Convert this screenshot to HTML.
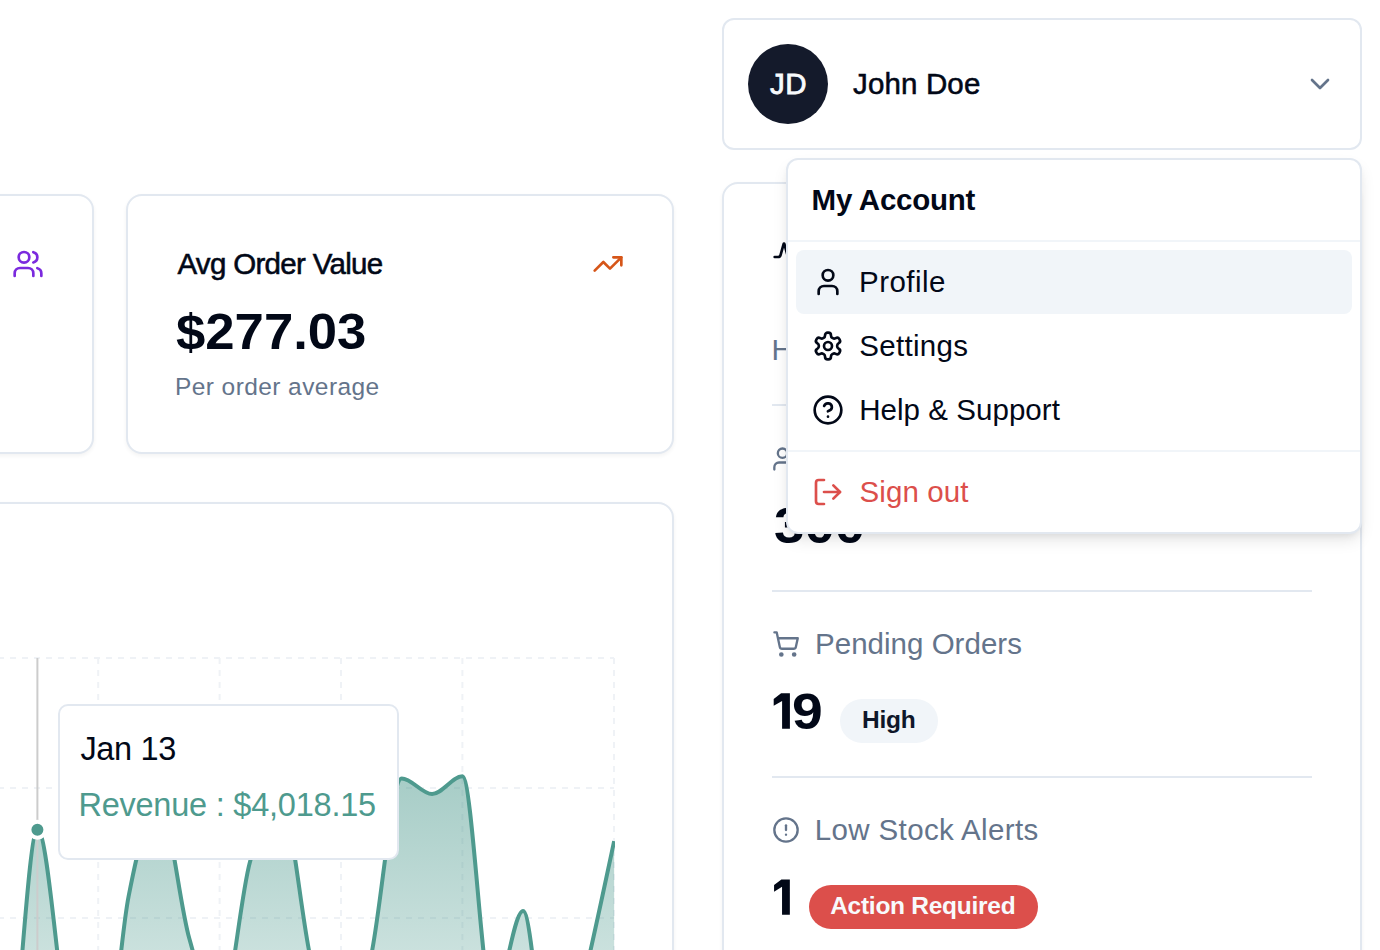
<!DOCTYPE html>
<html><head><meta charset="utf-8">
<style>
*{box-sizing:border-box;margin:0;padding:0}
html,body{width:1380px;height:950px;overflow:hidden;background:#fff}
body{position:relative;font-family:"Liberation Sans",sans-serif;color:#020817}
.abs{position:absolute}
.card{position:absolute;border:2px solid #e2e8f0;border-radius:16px;background:#fff;box-shadow:0 2px 4px rgba(0,0,0,0.05)}
.t{position:absolute;white-space:nowrap;line-height:1}
svg{display:block}
</style></head><body>
<div class="card" style="left:-500px;top:194px;width:594px;height:260px"></div>
<svg class="abs" style="left:11.7px;top:248px" width="32" height="32" viewBox="0 0 24 24" fill="none" stroke="#7b2ade" stroke-width="2" stroke-linecap="round" stroke-linejoin="round"><path d="M16 21v-2a4 4 0 0 0-4-4H6a4 4 0 0 0-4 4v2"/><circle cx="9" cy="7" r="4"/><path d="M22 21v-2a4 4 0 0 0-3-3.87"/><path d="M16 3.13a4 4 0 0 1 0 7.75"/></svg>

<div class="card" style="left:126px;top:194px;width:548px;height:260px"></div>
<div class="t" style="left:177.40px;top:249.03px;font-size:29.5px;font-weight:400;color:#020817;letter-spacing:-0.686px;-webkit-text-stroke:0.55px #020817;">Avg Order Value</div>
<svg class="abs" style="left:592px;top:248px" width="32" height="32" viewBox="0 0 24 24" fill="none" stroke="#d65619" stroke-width="2" stroke-linecap="round" stroke-linejoin="round"><polyline points="22 7 13.5 15.5 8.5 10.5 2 17"/><polyline points="16 7 22 7 22 13"/></svg>
<div class="t" style="left:176.00px;top:306.68px;font-size:50px;font-weight:700;color:#020817;letter-spacing:0.000px;transform:scaleX(1.0534);transform-origin:0 0;">$277.03</div>
<div class="t" style="left:175.00px;top:374.96px;font-size:24.5px;font-weight:400;color:#64748b;letter-spacing:0.419px;">Per order average</div>

<div class="card" style="left:-500px;top:502px;width:1174px;height:600px"></div>
<svg class="abs" style="left:0;top:0" width="680" height="950">
 <defs>
  <linearGradient id="fr" x1="0" y1="658" x2="0" y2="1178" gradientUnits="userSpaceOnUse">
   <stop offset="0" stop-color="#4e9a8e" stop-opacity="0.636"/>
   <stop offset="1" stop-color="#4e9a8e" stop-opacity="0.038"/>
  </linearGradient>
  <clipPath id="cp"><rect x="-100" y="600" width="715" height="600"/></clipPath>
 </defs>
 <g stroke="#eff2f6" stroke-width="2" stroke-dasharray="6 6" fill="none">
  <line x1="-98" y1="658" x2="614" y2="658"/>
  <line x1="-98" y1="788" x2="614" y2="788"/>
  <line x1="-98" y1="918" x2="614" y2="918"/>
  <line x1="98.2" y1="658" x2="98.2" y2="1178"/>
  <line x1="219.6" y1="658" x2="219.6" y2="1178"/>
  <line x1="341" y1="658" x2="341" y2="1178"/>
  <line x1="462.4" y1="658" x2="462.4" y2="1178"/>
  <line x1="614" y1="658" x2="614" y2="1178"/>
 </g>
 <g clip-path="url(#cp)">
 <path d="M-53.55,950.00C-43.43,964.65,-33.32,979.30,-23.20,1000.00C-13.08,1020.70,-2.97,1074.19,7.15,1074.19C17.27,1074.19,27.38,829.60,37.50,829.60C47.62,829.60,57.73,980.66,67.85,1027.86C77.97,1075.06,88.08,1112.79,98.20,1112.79C108.32,1112.79,118.43,948.30,128.55,896.57C138.67,844.83,148.78,802.40,158.90,802.40C169.02,802.40,179.13,902.51,189.25,938.28C199.37,974.05,209.48,1017.00,219.60,1017.00C229.72,1017.00,239.83,898.43,249.95,861.95C260.07,825.48,270.18,798.15,280.30,798.15C290.42,798.15,300.53,912.95,310.65,958.79C320.77,1004.63,330.88,1073.19,341.00,1073.19C351.12,1073.19,361.23,1003.76,371.35,954.64C381.47,905.52,391.58,778.49,401.70,778.49C411.82,778.49,421.93,794.05,432.05,794.05C442.17,794.05,452.28,776.29,462.40,776.29C472.52,776.29,482.63,1002.27,492.75,1002.27C502.87,1002.27,512.98,911.11,523.10,911.11C533.22,911.11,543.33,1103.55,553.45,1103.55C563.57,1103.55,573.68,1023.81,583.80,980.07C593.92,936.32,604.03,888.69,614.15,841.07L614.15,1178L-53.55,1178Z" fill="url(#fr)" stroke="none"/>
 <path d="M-53.55,950.00C-43.43,964.65,-33.32,979.30,-23.20,1000.00C-13.08,1020.70,-2.97,1074.19,7.15,1074.19C17.27,1074.19,27.38,829.60,37.50,829.60C47.62,829.60,57.73,980.66,67.85,1027.86C77.97,1075.06,88.08,1112.79,98.20,1112.79C108.32,1112.79,118.43,948.30,128.55,896.57C138.67,844.83,148.78,802.40,158.90,802.40C169.02,802.40,179.13,902.51,189.25,938.28C199.37,974.05,209.48,1017.00,219.60,1017.00C229.72,1017.00,239.83,898.43,249.95,861.95C260.07,825.48,270.18,798.15,280.30,798.15C290.42,798.15,300.53,912.95,310.65,958.79C320.77,1004.63,330.88,1073.19,341.00,1073.19C351.12,1073.19,361.23,1003.76,371.35,954.64C381.47,905.52,391.58,778.49,401.70,778.49C411.82,778.49,421.93,794.05,432.05,794.05C442.17,794.05,452.28,776.29,462.40,776.29C472.52,776.29,482.63,1002.27,492.75,1002.27C502.87,1002.27,512.98,911.11,523.10,911.11C533.22,911.11,543.33,1103.55,553.45,1103.55C563.57,1103.55,573.68,1023.81,583.80,980.07C593.92,936.32,604.03,888.69,614.15,841.07" fill="none" stroke="#4e9a8e" stroke-width="4"/>
 </g>
 <line x1="37.4" y1="658" x2="37.4" y2="1178" stroke="#cccccc" stroke-width="2"/>
 <circle cx="37.4" cy="829.7" r="8" fill="#4e9a8e" stroke="#fff" stroke-width="4"/>
</svg>
<div class="abs" style="left:58px;top:704px;width:341px;height:156px;border:2px solid #e2e8f0;border-radius:10px;background:#fff"></div>
<div class="t" style="left:80.40px;top:733.19px;font-size:32.5px;font-weight:400;color:#020817;letter-spacing:-0.340px;">Jan 13</div>
<div class="t" style="left:78.40px;top:788.79px;font-size:32.5px;font-weight:400;color:#4e9a8e;letter-spacing:-0.222px;">Revenue : $4,018.15</div>

<div class="card" style="left:722px;top:182px;width:640px;height:900px"></div>
<svg class="abs" style="left:772px;top:240.5px" width="32" height="32" viewBox="0 0 24 24" fill="none" stroke="#020817" stroke-width="2" stroke-linecap="round" stroke-linejoin="round"><path d="M22 12h-2.48a2 2 0 0 0-1.93 1.46l-2.35 8.36a.25.25 0 0 1-.48 0L9.24 2.18a.25.25 0 0 0-.48 0l-2.35 8.36A2 2 0 0 1 4.49 12H2"/></svg>
<div class="t" style="left:816px;top:236px;font-size:40px;font-weight:700">Quick Stats</div>
<div class="t" style="left:771.40px;top:334.83px;font-size:29.5px;font-weight:400;color:#64748b;letter-spacing:0.000px;">Here is your overview</div>
<div class="abs" style="left:772px;top:404px;width:540px;height:2px;background:#e2e8f0"></div>
<svg class="abs" style="left:772px;top:444.5px" width="28" height="28" viewBox="0 0 24 24" fill="none" stroke="#64748b" stroke-width="2" stroke-linecap="round" stroke-linejoin="round"><path d="M16 21v-2a4 4 0 0 0-4-4H6a4 4 0 0 0-4 4v2"/><circle cx="9" cy="7" r="4"/><path d="M22 21v-2a4 4 0 0 0-3-3.87"/><path d="M16 3.13a4 4 0 0 1 0 7.75"/></svg>
<div class="t" style="left:816.00px;top:442.53px;font-size:29.5px;font-weight:400;color:#64748b;letter-spacing:0.000px;">Total Customers</div>
<div class="t" style="left:773.60px;top:500.68px;font-size:50px;font-weight:700;color:#020817;letter-spacing:0.000px;transform:scaleX(1.0938);transform-origin:0 0;">300</div>
<div class="abs" style="left:772px;top:590px;width:540px;height:2px;background:#e2e8f0"></div>
<svg class="abs" style="left:772px;top:630px" width="28" height="28" viewBox="0 0 24 24" fill="none" stroke="#64748b" stroke-width="2" stroke-linecap="round" stroke-linejoin="round"><circle cx="8" cy="21" r="1"/><circle cx="19" cy="21" r="1"/><path d="M2.05 2.05h2l2.66 12.42a2 2 0 0 0 2 1.58h9.78a2 2 0 0 0 1.95-1.57l1.65-7.43H5.12"/></svg>
<div class="t" style="left:815.00px;top:628.93px;font-size:29.5px;font-weight:400;color:#64748b;letter-spacing:0.023px;">Pending Orders</div>
<svg class="abs" style="left:0;top:0" width="1380" height="950"><polygon fill="#020817" points="781.1,693.2 789.9,693.2 789.9,728.8 782.1,728.8 782.1,700.9 773.7,705.8 773.7,699"/><polygon fill="#020817" points="781.4,879.6 789.84,879.6 789.84,914.7 782.05,914.7 782.05,886.66 774.07,891.7 774.07,884.9"/></svg>
<div class="t" style="left:792.40px;top:686.67px;font-size:50px;font-weight:700;color:#020817;letter-spacing:0.000px;transform:scaleX(1.1051);transform-origin:0 0;">9</div>
<div class="abs" style="left:840px;top:699px;width:98px;height:44px;border-radius:22px;background:#f1f5f9"></div>
<div class="t" style="left:862.00px;top:708.26px;font-size:24.5px;font-weight:700;color:#0f172a;letter-spacing:-0.267px;">High</div>
<div class="abs" style="left:772px;top:776px;width:540px;height:2px;background:#e2e8f0"></div>
<svg class="abs" style="left:772px;top:816px" width="28" height="28" viewBox="0 0 24 24" fill="none" stroke="#64748b" stroke-width="2" stroke-linecap="round" stroke-linejoin="round"><circle cx="12" cy="12" r="10"/><line x1="12" x2="12" y1="8" y2="12"/><line x1="12" x2="12.01" y1="16" y2="16"/></svg>
<div class="t" style="left:814.80px;top:815.03px;font-size:29.5px;font-weight:400;color:#64748b;letter-spacing:0.360px;">Low Stock Alerts</div>
<div class="abs" style="left:809px;top:885px;width:229px;height:44px;border-radius:22px;background:#dc4f4b"></div>
<div class="t" style="left:830.20px;top:894.26px;font-size:24.5px;font-weight:700;color:#f8fafc;letter-spacing:-0.271px;">Action Required</div>

<div class="card" style="left:722px;top:18px;width:640px;height:132px;border-radius:12px;box-shadow:none"></div>
<div class="abs" style="left:748px;top:44px;width:80px;height:80px;border-radius:50%;background:#141a2b"></div>
<div class="t" style="left:770.00px;top:69.03px;font-size:29.5px;font-weight:400;color:#f8fafc;letter-spacing:0.500px;-webkit-text-stroke:0.8px #f8fafc;">JD</div>
<div class="t" style="left:853.00px;top:69.03px;font-size:29.5px;font-weight:400;color:#020817;letter-spacing:0.143px;-webkit-text-stroke:0.55px #020817;">John Doe</div>
<svg class="abs" style="left:1304px;top:68px" width="32" height="32" viewBox="0 0 24 24" fill="none" stroke="#64748b" stroke-width="2" stroke-linecap="round" stroke-linejoin="round"><path d="m6 9 6 6 6-6"/></svg>

<div class="abs" style="left:786px;top:158px;width:576px;height:376px;border:2px solid #e2e8f0;border-radius:12px;background:#fff;box-shadow:0 8px 16px -2px rgba(0,0,0,0.1),0 4px 8px -4px rgba(0,0,0,0.1)"></div>
<div class="t" style="left:811.60px;top:185.28px;font-size:29.5px;font-weight:700;color:#020817;letter-spacing:-0.267px;">My Account</div>
<div class="abs" style="left:788px;top:240px;width:572px;height:2px;background:#f1f5f9"></div>
<div class="abs" style="left:796px;top:250px;width:556px;height:64px;border-radius:8px;background:#f1f5f9"></div>
<svg class="abs" style="left:812px;top:266px" width="32" height="32" viewBox="0 0 24 24" fill="none" stroke="#020817" stroke-width="2" stroke-linecap="round" stroke-linejoin="round"><path d="M19 21v-2a4 4 0 0 0-4-4H9a4 4 0 0 0-4 4v2"/><circle cx="12" cy="7" r="4"/></svg>
<div class="t" style="left:859.00px;top:266.83px;font-size:29.5px;font-weight:400;color:#020817;letter-spacing:0.467px;">Profile</div>
<svg class="abs" style="left:812px;top:330px" width="32" height="32" viewBox="0 0 24 24" fill="none" stroke="#020817" stroke-width="2" stroke-linecap="round" stroke-linejoin="round"><path d="M12.22 2h-.44a2 2 0 0 0-2 2v.18a2 2 0 0 1-1 1.73l-.43.25a2 2 0 0 1-2 0l-.15-.08a2 2 0 0 0-2.73.73l-.22.38a2 2 0 0 0 .73 2.73l.15.1a2 2 0 0 1 1 1.72v.51a2 2 0 0 1-1 1.74l-.15.09a2 2 0 0 0-.73 2.73l.22.38a2 2 0 0 0 2.730.73l.15-.08a2 2 0 0 1 2 0l.43.25a2 2 0 0 1 1 1.73V20a2 2 0 0 0 2 2h.44a2 2 0 0 0 2-2v-.18a2 2 0 0 1 1-1.73l.43-.25a2 2 0 0 1 2 0l.15.08a2 2 0 0 0 2.73-.73l.22-.39a2 2 0 0 0-.73-2.73l-.15-.08a2 2 0 0 1-1-1.74v-.5a2 2 0 0 1 1-1.74l.15-.09a2 2 0 0 0 .73-2.73l-.22-.38a2 2 0 0 0-2.73-.73l-.15.08a2 2 0 0 1-2 0l-.43-.25a2 2 0 0 1-1-1.73V4a2 2 0 0 0-2-2z"/><circle cx="12" cy="12" r="3"/></svg>
<div class="t" style="left:859.20px;top:331.13px;font-size:29.5px;font-weight:400;color:#020817;letter-spacing:0.329px;">Settings</div>
<svg class="abs" style="left:812px;top:394px" width="32" height="32" viewBox="0 0 24 24" fill="none" stroke="#020817" stroke-width="2" stroke-linecap="round" stroke-linejoin="round"><circle cx="12" cy="12" r="10"/><path d="M9.09 9a3 3 0 0 1 5.83 1c0 2-3 3-3 3"/><path d="M12 17h.01"/></svg>
<div class="t" style="left:859.20px;top:394.83px;font-size:29.5px;font-weight:400;color:#020817;letter-spacing:0.046px;">Help &amp; Support</div>
<div class="abs" style="left:788px;top:450px;width:572px;height:2px;background:#f1f5f9"></div>
<svg class="abs" style="left:812px;top:476px" width="32" height="32" viewBox="0 0 24 24" fill="none" stroke="#dc4f4b" stroke-width="2" stroke-linecap="round" stroke-linejoin="round"><path d="M9 21H5a2 2 0 0 1-2-2V5a2 2 0 0 1 2-2h4"/><polyline points="16 17 21 12 16 7"/><line x1="21" x2="9" y1="12" y2="12"/></svg>
<div class="t" style="left:859.60px;top:476.93px;font-size:29.5px;font-weight:400;color:#dc4f4b;letter-spacing:0.100px;">Sign out</div>
</body></html>
